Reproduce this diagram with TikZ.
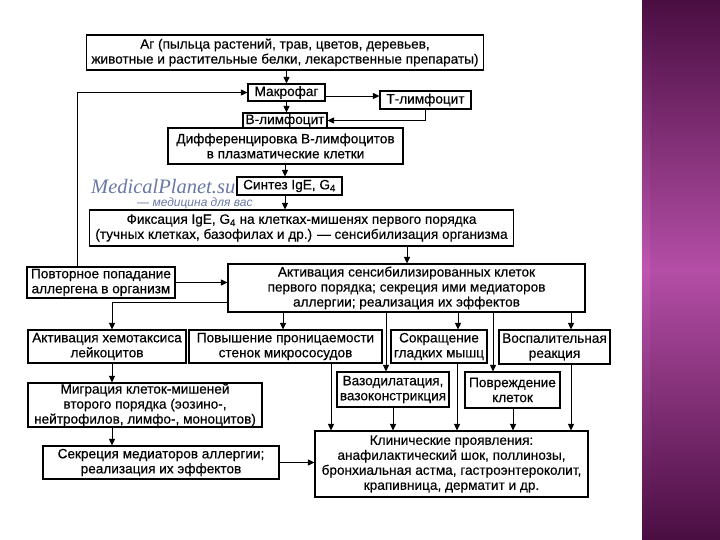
\documentclass[tikz,border=0pt]{standalone}
\usepackage{fontspec}
\setmainfont{Liberation Sans}
\newfontfamily\boxfont[FakeBold=0.35]{Liberation Sans}
\newfontfamily\wmserif{Liberation Serif}
\usetikzlibrary{arrows.meta,calc}
\definecolor{bandDark}{RGB}{74,14,66}
\definecolor{bandMid}{RGB}{180,78,166}
\definecolor{bandEdge}{RGB}{200,92,186}
\definecolor{wmblue}{RGB}{105,120,165}
\begin{document}
\begin{tikzpicture}[x=1pt,y=-1pt,
  box/.style={draw, line width=1.1pt, inner sep=0pt, align=center, font=\boxfont\fontsize{13.6}{15}\selectfont},
  arr/.style={line width=0.9pt, -{Triangle[length=6.5pt,width=6pt]}}]
\useasboundingbox (0,0) rectangle (720,540);
\fill[white] (0,0) rectangle (720,540);
\shade[top color=bandDark, bottom color=bandDark, middle color=bandMid] (642,0) rectangle (720,540);
\shade[top color=bandDark, bottom color=bandDark, middle color=bandEdge, opacity=0.6] (642,0) rectangle (650,540);

% watermark
\node[font=\wmserif\itshape\fontsize{20.5}{20}\selectfont, text=wmblue, anchor=base west, inner sep=0pt] (wm1) at (91,194) {MedicalPlanet.su};
\node[font=\itshape\fontsize{12}{12}\selectfont, text=wmblue, anchor=base west, inner sep=0pt] (wm2) at (137,207) {— медицина для вас};

% nodes
\node[box, minimum width=397pt, minimum height=35pt] (ag) at (285,52.5) {Аг (пыльца растений, трав, цветов, деревьев,\\животные и растительные белки, лекарственные препараты)};
\node[box, minimum width=77pt, minimum height=17pt] (mac) at (286.5,92.5) {Макрофаг};
\node[box, minimum width=91pt, minimum height=18pt] (tl) at (425.5,100) {Т-лимфоцит};
\node[box, minimum width=84pt, minimum height=15pt] (bl) at (285,120.5) {В-лимфоцит};
\node[box, minimum width=235pt, minimum height=36pt] (diff) at (285.5,146) {Дифференцировка В-лимфоцитов\\в плазматические клетки};
\node[box, minimum width=105pt, minimum height=18pt] (syn) at (289.5,186) {Синтез IgE, G\textsubscript{4}};
\node[box, minimum width=424pt, minimum height=36pt] (fix) at (301.5,228) {Фиксация IgE, G\textsubscript{4} на клетках-мишенях первого порядка\\(тучных клетках, базофилах и др.) — сенсибилизация организма};
\node[box, minimum width=148pt, minimum height=31pt] (povt) at (101,282.5) {Повторное попадание\\аллергена в организм};
\node[box, minimum width=357pt, minimum height=48pt] (act) at (406.5,288) {Активация сенсибилизированных клеток\\первого порядка; секреция ими медиаторов\\аллергии; реализация их эффектов};
\node[box, minimum width=158pt, minimum height=33pt] (r3a) at (107,346.5) {Активация хемотаксиса\\лейкоцитов};
\node[box, minimum width=193pt, minimum height=33pt] (r3b) at (285.5,346.5) {Повышение проницаемости\\стенок микрососудов};
\node[box, minimum width=96pt, minimum height=33pt] (r3c) at (439,346.5) {Сокращение\\гладких мышц};
\node[box, minimum width=111pt, minimum height=34pt] (r3d) at (554.5,347) {Воспалительная\\реакция};
\node[box, minimum width=234pt, minimum height=44pt] (mig) at (145,405) {Миграция клеток-мишеней\\второго порядка (эозино-,\\нейтрофилов, лимфо-, моноцитов)};
\node[box, minimum width=112pt, minimum height=35pt] (vaz) at (393,389.5) {Вазодилатация,\\вазоконстрикция};
\node[box, minimum width=95pt, minimum height=36pt] (pov) at (512.5,390) {Повреждение\\клеток};
\node[box, minimum width=236pt, minimum height=33pt] (sek) at (161,462.5) {Секреция медиаторов аллергии;\\реализация их эффектов};
\node[box, minimum width=273pt, minimum height=66pt] (kl) at (451.5,464) {Клинические проявления:\\анафилактический шок, поллинозы,\\бронхиальная астма, гастроэнтероколит,\\крапивница, дерматит и др.};

% connectors
\draw[arr] (ag.south -| mac.north) -- (mac.north);
\draw[arr] (mac.east |- 0,96) -- (tl.west |- 0,96);
\draw[arr] (mac.south) -- (mac.south |- bl.north);
\draw[arr] (tl.south) |- (bl.east);
\draw[arr] (diff.south -| 285,0) -- (syn.north -| 285,0);
\draw[arr] (syn.south -| 285,0) -- (fix.north -| 285,0);
\draw[arr] (fix.south -| 407,0) -- (act.north -| 407,0);
\draw[arr] (povt.east) -- (povt.east -| act.west);
\draw[arr] (povt.north -| 77,0) |- (mac.west);
\draw[arr] (act.west |- 0,302) -| (r3a.north -| 112,0);
\draw[arr] (act.south -| 283,0) -- (r3b.north -| 283,0);
\draw[arr] (act.south -| 386,0) -- (vaz.north -| 386,0);
\draw[arr] (act.south -| 458,0) -- (r3c.north -| 458,0);
\draw[arr] (act.south -| 493,0) -- (pov.north -| 493,0);
\draw[arr] (act.south -| 571,0) -- (r3d.north -| 571,0);
\draw[arr] (r3a.south -| 112,0) -- (mig.north -| 112,0);
\draw[arr] (mig.south -| 112,0) -- (sek.north -| 112,0);
\draw[arr] (sek.east) -- (sek.east -| kl.west);
\draw[arr] (r3b.south -| 331,0) -- (kl.north -| 331,0);
\draw[arr] (vaz.south) -- (vaz.south |- kl.north);
\draw[arr] (r3c.south -| 457,0) -- (kl.north -| 457,0);
\draw[arr] (pov.south -| 513,0) -- (kl.north -| 513,0);
\draw[arr] (r3d.south -| 571,0) -- (kl.north -| 571,0);
\end{tikzpicture}
\end{document}
